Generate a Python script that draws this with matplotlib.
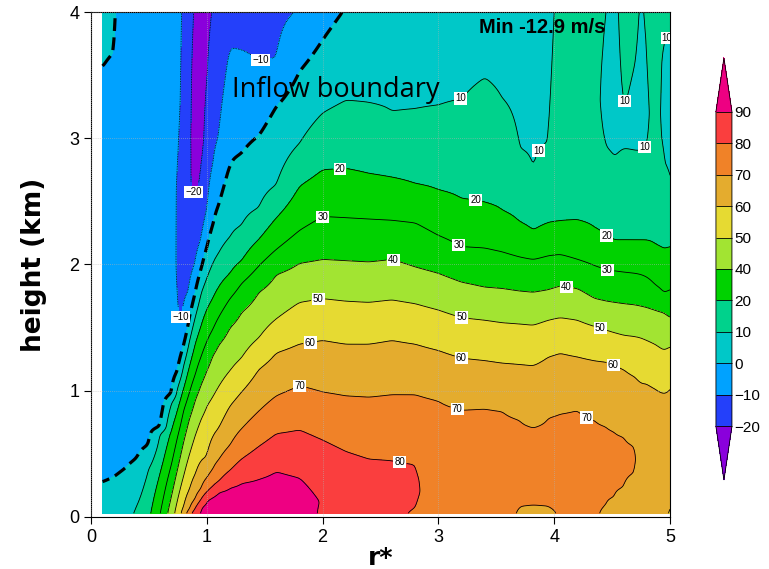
import numpy as np
import matplotlib
matplotlib.use('Agg')
import matplotlib.pyplot as plt

# radial columns (r*) and, for each, (height km, wind m/s) knots
col_r = [0.1, 0.2, 0.3, 0.4, 0.5, 0.6, 0.7, 0.75, 0.8, 0.85, 0.9, 0.95, 1.0, 1.05,
         1.1, 1.2, 1.3, 1.45, 1.6, 1.8, 2.0, 2.2, 2.4, 2.6, 2.8, 3.0, 3.2, 3.4,
         3.55, 3.7, 3.82, 3.95, 4.05, 4.2, 4.35, 4.45, 4.52, 4.6, 4.7, 4.75, 4.8,
         4.87, 4.95, 5.0]

col_profiles = [
    [(0.03, 3), (0.28, 0), (0.6, -6), (3.2, -5), (3.56, 0), (4.0, 4)],
    [(0.03, 5), (0.32, 0), (0.6, -6), (3.3, -5), (3.68, 0), (4.0, 1)],
    [(0.03, 8), (0.39, 0), (0.7, -6), (4.0, -7)],
    [(0.03, 11), (0.09, 10), (0.47, 0), (0.8, -6), (4.0, -7)],
    [(0.03, 18), (0.38, 10), (0.57, 0), (0.9, -6), (4.0, -7)],
    [(0.03, 30), (0.35, 20), (0.66, 10), (0.71, 0), (1.0, -6), (4.0, -7)],
    [(0.03, 46), (0.18, 40), (0.43, 30), (0.71, 20), (0.91, 10), (0.98, 0), (1.3, -6), (4.0, -7)],
    [(0.03, 55), (0.15, 50), (0.39, 40), (0.64, 30), (0.85, 20), (1.03, 10), (1.15, 0), (1.35, -7),
     (1.56, -10), (2.0, -12), (2.6, -11.5), (2.9, -10), (3.3, -8.5), (4.0, -8)],
    [(0.03, 64), (0.085, 60), (0.33, 50), (0.6, 40), (0.85, 30), (1.02, 20), (1.2, 10), (1.35, 0),
     (1.52, -10), (2.2, -13), (3.0, -12.5), (4.0, -10.8)],
    [(0.03, 77), (0.06, 70), (0.22, 60), (0.5, 50), (0.78, 40), (0.99, 30), (1.2, 20), (1.4, 10),
     (1.58, 0), (1.78, -10), (2.45, -18.5), (2.6, -20.3), (2.9, -19.8), (4.0, -19.0)],
    [(0.03, 86), (0.07, 80), (0.14, 70), (0.34, 60), (0.65, 50), (0.93, 40), (1.13, 30), (1.38, 20),
     (1.59, 10), (1.78, 0), (2.0, -10), (2.5, -19), (2.6, -20.5), (3.0, -22), (3.5, -21.5), (4.0, -20.3)],
    [(0.03, 91), (0.08, 90), (0.14, 80), (0.22, 70), (0.45, 60), (0.78, 50), (1.05, 40), (1.27, 30),
     (1.52, 20), (1.78, 10), (1.97, 0), (2.19, -10), (2.6, -19.5), (2.8, -21), (3.0, -23), (4.0, -23)],
    [(0.03, 93), (0.14, 90), (0.2, 80), (0.31, 70), (0.47, 60), (0.88, 50), (1.16, 40), (1.39, 30),
     (1.65, 20), (1.9, 10), (2.15, 0), (2.44, -10), (3.0, -17), (3.5, -20.5), (4.0, -22)],
    [(0.03, 94), (0.16, 90), (0.24, 80), (0.38, 70), (0.64, 60), (0.95, 50), (1.28, 40), (1.48, 30),
     (1.73, 20), (2.01, 10), (2.32, 0), (2.8, -10), (3.5, -16), (4.0, -19.8)],
    [(0.03, 95), (0.2, 90), (0.28, 80), (0.45, 70), (0.7, 60), (1.03, 50), (1.36, 40), (1.58, 30),
     (1.82, 20), (2.09, 10), (2.47, 0), (3.0, -10), (3.5, -14), (4.0, -16)],
    [(0.03, 95), (0.235, 90), (0.37, 80), (0.57, 70), (0.88, 60), (1.16, 50), (1.5, 40), (1.73, 30),
     (1.93, 20), (2.22, 10), (2.8, 0), (3.72, -10), (4.0, -13)],
    [(0.03, 95), (0.27, 90), (0.46, 80), (0.70, 70), (0.99, 60), (1.26, 50), (1.62, 40), (1.85, 30),
     (2.03, 20), (2.31, 10), (2.88, 0), (3.7, -10), (4.0, -13)],
    [(0.03, 96), (0.3, 90), (0.56, 80), (0.84, 70), (1.17, 60), (1.42, 50), (1.78, 40), (1.99, 30),
     (2.2, 20), (2.45, 10), (3.02, 0), (3.61, -10), (4.0, -13)],
    [(0.03, 97), (0.36, 90), (0.66, 80), (0.96, 70), (1.30, 60), (1.57, 50), (1.92, 40), (2.12, 30),
     (2.37, 20), (2.63, 10), (3.25, 0), (3.63, -10), (4.0, -12)],
    [(0.03, 95), (0.31, 90), (0.69, 80), (1.04, 70), (1.37, 60), (1.70, 50), (2.01, 40), (2.27, 30),
     (2.62, 20), (2.96, 10), (3.53, 0), (4.0, -9.5)],
    [(0.03, 88.5), (0.12, 89.5), (0.3, 87), (0.61, 80), (0.99, 70), (1.40, 60), (1.73, 50), (2.04, 40),
     (2.38, 30), (2.75, 20), (3.2, 10), (3.78, 0), (4.0, -3)],
    [(0.03, 86), (0.2, 86), (0.52, 80), (0.96, 70), (1.37, 60), (1.71, 50), (2.03, 40), (2.37, 30),
     (2.76, 20), (3.3, 10), (4.0, 0.5)],
    [(0.03, 84), (0.2, 84), (0.46, 80), (0.95, 70), (1.37, 60), (1.70, 50), (2.02, 40), (2.36, 30),
     (2.72, 20), (3.28, 10), (4.0, 4)],
    [(0.03, 82), (0.2, 82), (0.45, 80), (0.97, 70), (1.40, 60), (1.72, 50), (2.04, 40), (2.35, 30),
     (2.69, 20), (3.21, 10), (4.0, 5)],
    [(0.03, 79), (0.07, 80), (0.2, 81), (0.42, 80), (0.97, 70), (1.37, 60), (1.69, 50), (1.98, 40),
     (2.33, 30), (2.64, 20), (3.23, 10), (4.0, 5)],
    [(0.03, 75), (0.3, 77), (0.92, 70), (1.32, 60), (1.64, 50), (1.93, 40), (2.23, 30), (2.59, 20),
     (3.26, 10), (4.0, 5)],
    [(0.03, 75), (0.3, 76), (0.85, 70), (1.26, 60), (1.58, 50), (1.86, 40), (2.14, 30), (2.52, 20),
     (3.31, 10), (4.0, 5)],
    [(0.03, 75), (0.3, 76), (0.86, 70), (1.24, 60), (1.56, 50), (1.82, 40), (2.13, 30), (2.49, 20),
     (3.48, 10), (4.0, 6)],
    [(0.03, 74), (0.3, 75), (0.84, 70), (1.22, 60), (1.54, 50), (1.81, 40), (2.1, 30), (2.43, 20),
     (3.32, 10), (4.0, 6)],
    [(0.03, 69), (0.08, 70), (0.3, 73), (0.77, 70), (1.21, 60), (1.53, 50), (1.79, 40), (2.06, 30),
     (2.34, 20), (2.92, 10), (4.0, 6)],
    [(0.03, 68), (0.09, 70), (0.3, 73), (0.71, 70), (1.20, 60), (1.52, 50), (1.78, 40), (2.04, 30),
     (2.27, 20), (2.72, 10), (4.0, 6)],
    [(0.03, 68), (0.08, 70), (0.3, 73), (0.79, 70), (1.27, 60), (1.56, 50), (1.80, 40), (2.07, 30),
     (2.33, 20), (2.97, 10), (4.0, 8)],
    [(0.03, 71), (0.3, 74), (0.82, 70), (1.30, 60), (1.58, 50), (1.83, 40), (2.08, 30), (2.34, 20),
     (3.0, 14), (4.0, 12)],
    [(0.03, 72), (0.3, 74), (0.85, 70), (1.27, 60), (1.56, 50), (1.81, 40), (2.04, 30), (2.35, 20),
     (3.0, 14), (4.0, 13)],
    [(0.03, 71), (0.3, 72.5), (0.77, 70), (1.24, 60), (1.51, 50), (1.73, 40), (1.99, 30), (2.29, 20),
     (2.9, 13), (4.0, 12)],
    [(0.03, 68.5), (0.1, 70), (0.4, 71.5), (0.72, 70), (1.23, 60), (1.48, 50), (1.71, 40), (1.96, 30),
     (2.22, 20), (2.93, 10), (3.3, 7), (3.7, 9), (4.0, 10.1)],
    [(0.03, 66), (0.15, 70), (0.4, 71), (0.68, 70), (1.21, 60), (1.46, 50), (1.70, 40), (1.95, 30),
     (2.19, 20), (2.85, 10), (3.3, 6), (4.0, 7)],
    [(0.03, 65), (0.23, 70), (0.45, 71), (0.64, 70), (1.17, 60), (1.44, 50), (1.69, 40), (1.94, 30),
     (2.19, 20), (2.92, 10), (3.05, 8.5), (3.2, 10), (4.0, 14)],
    [(0.03, 64), (0.35, 70), (0.45, 70.5), (0.56, 70), (1.11, 60), (1.43, 50), (1.68, 40), (1.93, 30),
     (2.19, 20), (2.9, 10), (3.2, 8), (3.6, 10), (4.0, 11.5)],
    [(0.03, 64), (0.5, 68), (1.06, 60), (1.42, 50), (1.67, 40), (1.92, 30), (2.19, 20), (2.9, 10),
     (3.2, 8), (4.0, 9)],
    [(0.03, 63), (0.5, 67), (1.06, 60), (1.40, 50), (1.66, 40), (1.90, 30), (2.19, 20), (2.93, 10),
     (3.2, 9), (3.5, 9.7), (3.8, 10.3), (4.0, 11)],
    [(0.03, 63), (0.5, 66), (1.02, 60), (1.37, 50), (1.64, 40), (1.84, 30), (2.16, 20), (3.0, 12),
     (4.0, 13)],
    [(0.03, 62), (0.5, 65), (0.98, 60), (1.32, 50), (1.62, 40), (1.77, 30), (2.12, 20), (2.65, 12),
     (2.8, 10), (3.2, 8.5), (3.6, 9), (3.8, 10), (4.0, 11)],
    [(0.03, 59), (0.08, 60), (0.5, 64), (1.03, 60), (1.35, 50), (1.58, 40), (1.80, 30), (2.14, 20),
     (2.65, 10), (3.2, 8), (3.6, 9), (3.8, 10), (4.0, 11)],
]

fill_levels = [-20, -10, 0, 10, 20, 40, 50, 60, 70, 80, 90]
fill_colors = ['#8A00DC', '#2440FA', '#00A2FF', '#00C8C8', '#00D28C', '#00D200',
               '#A2E432', '#E6DA32', '#E4AC2E', '#F08228', '#FA3E3E', '#EE0082']
line_levels_pos = [10, 20, 30, 40, 50, 60, 70, 80, 90]
line_levels_neg = [-20, -10]
min_text = 'Min -12.9 m/s'

# labels on the contours (r*, km)
label_pos = [(3.2, 3.30), (3.91, 2.88), (4.61, 3.17), (4.81, 2.90), (4.96, 3.83),
             (2.15, 2.77), (3.32, 2.51), (4.46, 2.24),
             (2.0, 2.38), (3.17, 2.14), (4.46, 1.96),
             (2.61, 2.04), (4.11, 1.84),
             (1.96, 1.73), (3.2, 1.58), (4.40, 1.50),
             (1.89, 1.39), (3.2, 1.27), (4.51, 1.21),
             (1.8, 1.05), (3.16, 0.85), (4.31, 0.85),
             (2.67, 0.45)]
label_pos_neg = [(1.46, 3.60), (0.75, 1.56), (0.87, 2.55)]

# build field: each column interpolated in height, then across r
r_fine = np.linspace(0.1, 5.0, 400)
z_fine = np.linspace(0.03, 4.0, 400)
cols = np.array([np.interp(z_fine, [k[0] for k in p], [k[1] for k in p]) for p in col_profiles])
field = np.array([np.interp(r_fine, col_r, cols[:, j]) for j in range(len(z_fine))])


def smooth(a, sigma):
    n = int(np.ceil(3 * sigma))
    k = np.arange(-n, n + 1)
    w = np.exp(-0.5 * (k / sigma) ** 2)
    w /= w.sum()
    b = np.pad(a, ((n, n), (0, 0)), mode='edge')
    a = np.apply_along_axis(lambda c: np.convolve(c, w, mode='valid'), 0, b)
    b = np.pad(a, ((0, 0), (n, n)), mode='edge')
    a = np.apply_along_axis(lambda c: np.convolve(c, w, mode='valid'), 1, b)
    return a


field = smooth(field, 1.5)
R, Z = np.meshgrid(r_fine, z_fine)

fig = plt.figure(figsize=(7.69, 5.69), dpi=100)
ax = fig.add_axes([0.1183, 0.0914, 0.753, 0.8875])

cf = ax.contourf(R, Z, field, levels=fill_levels, colors=fill_colors, extend='both')
cs = ax.contour(R, Z, field, levels=line_levels_pos, colors='black', linewidths=0.6)
cn = ax.contour(R, Z, field, levels=line_levels_neg, colors='black', linewidths=0.6,
                linestyles=[(0, (1, 1))])
c0 = ax.contour(R, Z, field, levels=[0], colors='black', linewidths=2.3,
                linestyles=[(0, (4, 2))])


def fmt(v):
    return f'{v:.0f}'.replace('-', '\u2212')


lab_font = ['Liberation Sans Narrow', 'Liberation Sans']
labs = ax.clabel(cs, manual=label_pos, fmt=fmt, fontsize=7, inline=True, inline_spacing=1)
labs += ax.clabel(cn, manual=label_pos_neg, fmt=fmt, fontsize=7, inline=True, inline_spacing=1)
for t in labs:
    t.set_rotation(0)
    t.set_family(lab_font)
    t.set_bbox(dict(facecolor='white', edgecolor='none', pad=0.8))

ax.set_xlim(0, 5)
ax.set_ylim(0, 4)
ax.set_xticks([0, 1, 2, 3, 4, 5])
ax.set_yticks([0, 1, 2, 3, 4])
ax.grid(True, color='0.7', linestyle=(0, (1, 2)), linewidth=0.5)
ax.set_axisbelow(False)
ax.tick_params(direction='out', length=5, width=0.8, labelsize=13)
for t in ax.get_xticklabels() + ax.get_yticklabels():
    t.set_family(lab_font)
for s in ax.spines.values():
    s.set_linewidth(0.8)

ax.set_xlabel('r*', fontsize=18, fontweight='bold', labelpad=0)
ax.set_ylabel('height (km)', fontsize=19, fontweight='bold', labelpad=16)

ax.text(3.9, 3.88, min_text, ha='center', va='center', fontsize=14.5, fontweight='bold',
        family='Liberation Sans')
ax.text(1.22, 3.38, 'Inflow boundary', ha='left', va='center', fontsize=19.5, family='Open Sans')

cax = fig.add_axes([0.931, 0.1564, 0.0208, 0.7417])
cb = fig.colorbar(cf, cax=cax, ticks=fill_levels, extendfrac=0.17, drawedges=True)
cb.ax.tick_params(length=0, labelsize=11, pad=2)
for t in cb.ax.get_yticklabels():
    t.set_family(lab_font)
cb.outline.set_linewidth(0.6)
cb.dividers.set_linewidth(0.6)

plt.savefig('out.png', dpi=100)
plt.close()
